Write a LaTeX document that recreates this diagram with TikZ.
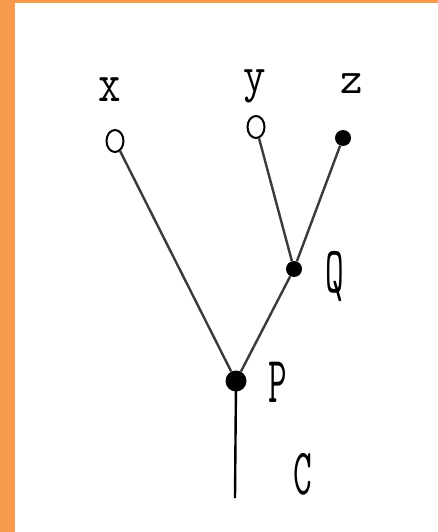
\documentclass[tikz,border=0pt]{standalone}
\usetikzlibrary{shapes.geometric}
\definecolor{frameorange}{HTML}{F89B4C}
\definecolor{edgegray}{HTML}{3A3A3A}
\tikzset{
  opennode/.style={draw=black, ellipse, line width=2pt, minimum width=17pt, minimum height=22pt, inner sep=0pt},
  dotnode/.style={circle, fill=black, inner sep=0pt},
  leaflabel/.style={font=\ttfamily\fontsize{46}{46}\selectfont, inner sep=0pt},
  intlabel/.style={font=\ttfamily\fontsize{66}{66}\selectfont, inner sep=0pt},
  edge/.style={draw=edgegray, line width=2.4pt}
}
\newcommand{\narrow}[1]{\scalebox{0.55}[1]{#1}}
\begin{document}
\begin{tikzpicture}[x=1pt,y=-1pt]
  \fill[frameorange] (0,0) rectangle (438,532);
  \fill[white] (15,3) rectangle (438,532);
  \useasboundingbox (0,0) rectangle (438,532);
  % nodes
  \node[opennode] (cx) at (115,141) {};
  \node[opennode] (cy) at (256,127) {};
  \node[dotnode, minimum size=16pt] (dz) at (343,138) {};
  \node[dotnode, minimum size=16pt] (dq) at (294,269) {};
  \node[dotnode, minimum size=21pt] (dp) at (236,381) {};
  \coordinate (root) at (235,498);
  % edges
  \draw[edge] (cx) -- (dp);
  \draw[edge] (cy) -- (dq);
  \draw[edge] (dz) -- (dq);
  \draw[edge] (dq) -- (dp);
  \draw[black, line width=2.4pt] (dp.center) -- (root);
  % labels
  \node[leaflabel] (lx) at (110,90) {\scalebox{0.95}[1.2]{x}};
  \node[leaflabel] (ly) at (255,86) {\scalebox{0.95}[1.1]{y}};
  \node[leaflabel] (lz) at (352,84) {\scalebox{0.95}[1.0]{z}};
  \node[intlabel] (lq) at (335,277) {\narrow{Q}};
  \node[intlabel] (lp) at (278,382) {\narrow{P}};
  \node[intlabel] (lc) at (303,474) {\narrow{C}};
\end{tikzpicture}
\end{document}
